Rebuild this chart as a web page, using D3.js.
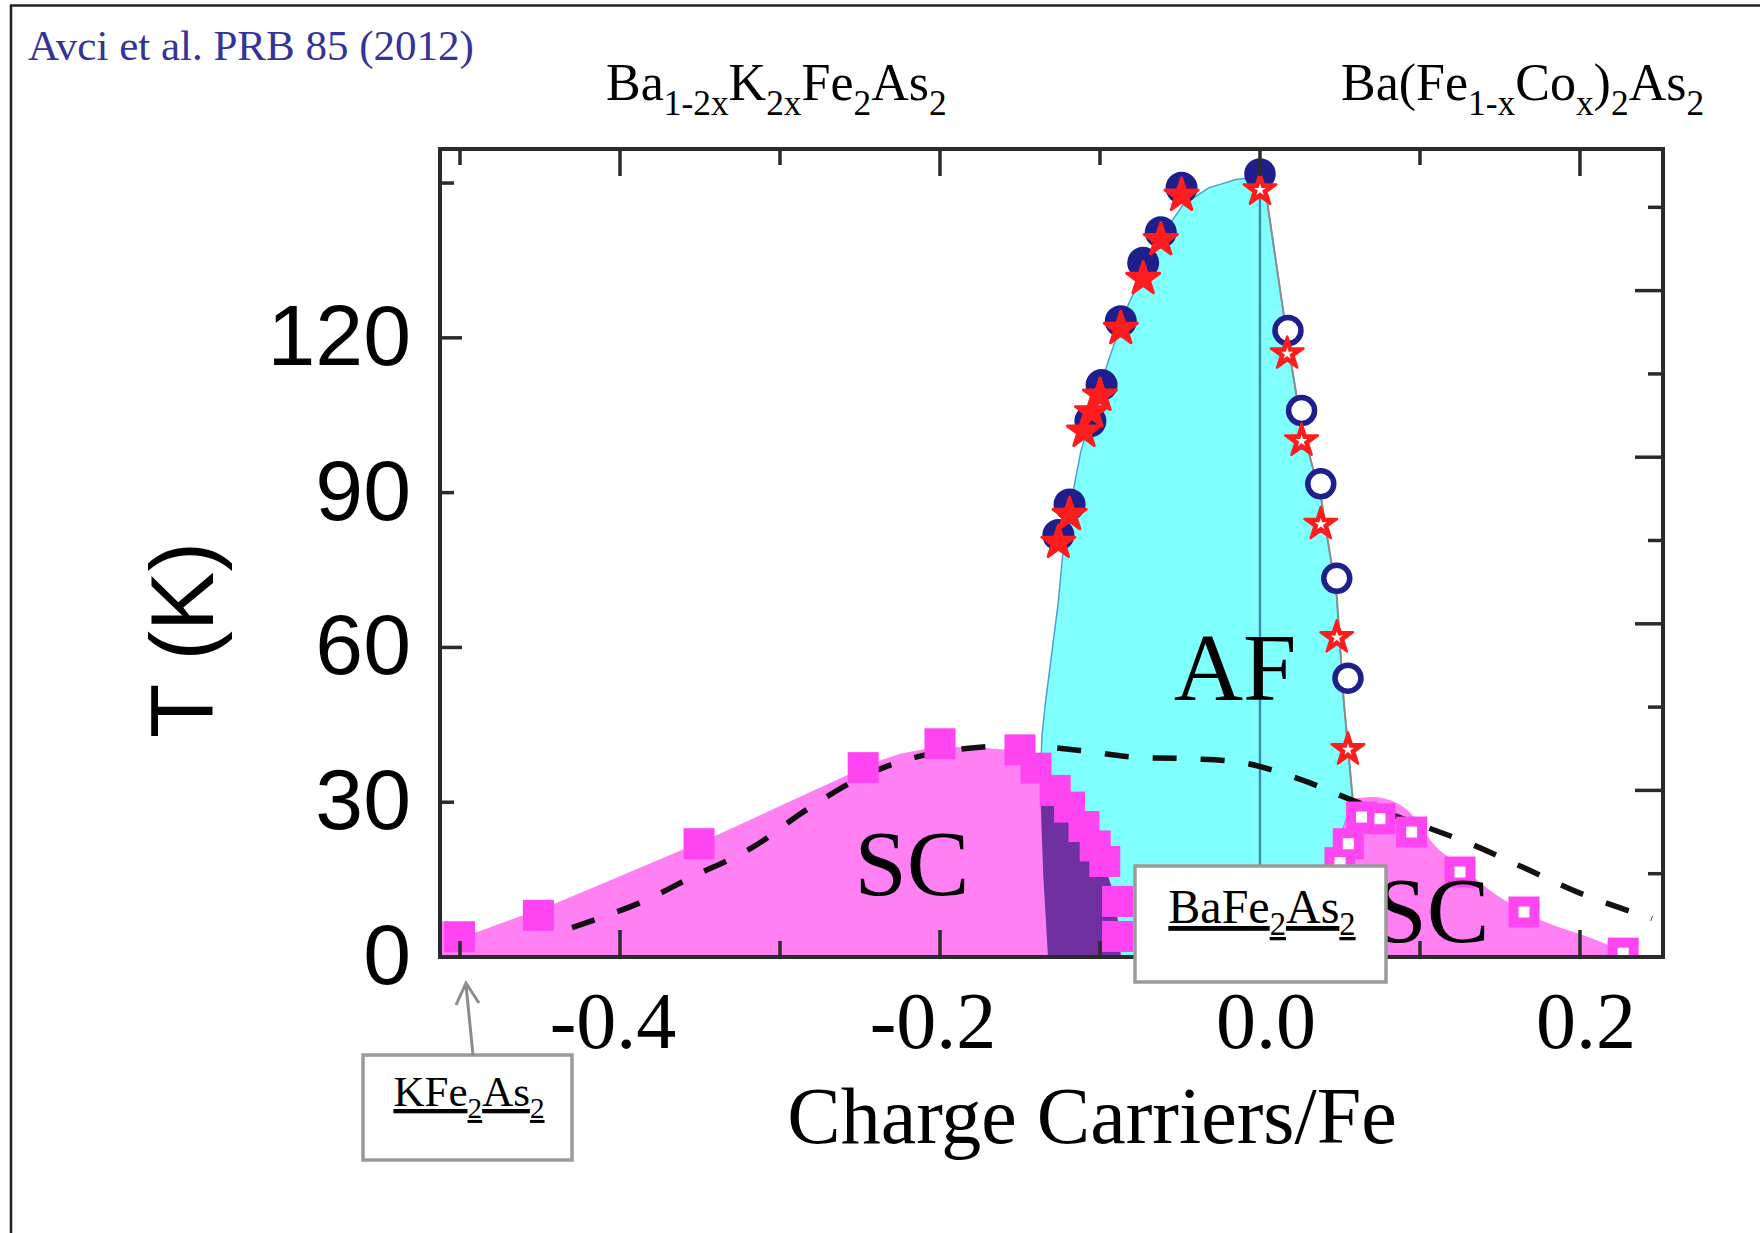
<!DOCTYPE html>
<html>
<head>
<meta charset="utf-8">
<script src="https://cdn.jsdelivr.net/npm/d3@7"></script>
<style>
  html, body { margin: 0; padding: 0; background: #fff; }
  svg { display: block; }
</style>
</head>
<body>
<svg id="chart" width="1760" height="1233"></svg>
<script>
// Ba1-2xK2xFe2As2 / Ba(Fe1-xCox)2As2 phase diagram (Avci et al.)
// x = charge carriers per Fe, T in K (scale of the inner plot frame)

// K-doped side: TN (filled circles) and Ts (filled stars)
const kCircles = [[-0.049, 138.5], [-0.062, 130.5], [-0.073, 125], [-0.087, 114.5],
  [-0.099, 103], [-0.106, 96.5], [-0.119, 81.5], [-0.126, 76]];
const kStars = [[-0.049, 137.5], [-0.062, 129.5], [-0.073, 122.5], [-0.087, 113.5],
  [-0.100, 101.5], [-0.105, 98.5], [-0.110, 95], [-0.119, 80], [-0.126, 75]];
// Co-doped side: open circles and open stars
const coCircles = [[0.0, 141], [0.0175, 112.8], [0.026, 98.4], [0.038, 85.2], [0.048, 68.2], [0.055, 50.2]];
const coStars = [[0.0, 138.5], [0.017, 109], [0.026, 93.3], [0.038, 78.3], [0.048, 57.9], [0.055, 37.7]];

// Tc points
const kSquares = [[-0.5003, 3.65], [-0.451, 7.5], [-0.3506, 20.4], [-0.248, 34.1], [-0.200, 38.4]];
const stairSquares = [[-0.150, 37.3], [-0.140, 34], [-0.128, 30], [-0.119, 27], [-0.110, 23.5],
  [-0.103, 20], [-0.097, 17.2], [-0.089, 10], [-0.089, 3.7]];
const coSquares = [[0.050, 17], [0.0552, 20.4], [0.0635, 25.2], [0.075, 24.9], [0.0948, 22.5],
  [0.125, 15.3], [0.165, 8.1], [0.227, 0.7]];

// phase boundaries
const afLeft = [[-0.1325, 0], [-0.1355, 15], [-0.1375, 31], [-0.1362, 40], [-0.134, 46], [-0.130, 55],
  [-0.126, 64], [-0.1225, 75], [-0.118, 82], [-0.112, 91], [-0.104, 99], [-0.094, 108], [-0.083, 117],
  [-0.072, 124], [-0.060, 130.5], [-0.048, 135.5], [-0.032, 138.5], [-0.015, 140], [0.0, 140.5]];
const afRight = [[0.0, 140.5], [0.004, 137], [0.0175, 110.5], [0.0257, 96], [0.0384, 82.3],
  [0.048, 64.9], [0.0523, 46.3], [0.058, 28.3]];
const afBottom = [[0.045, 17], [0.040, 0]];
const scLeft = [[-0.5125, 6.6], [-0.49, 4.4], [-0.44, 9.7], [-0.34, 21.9], [-0.24, 35.1], [-0.225, 36.6],
  [-0.21, 37.4], [-0.19, 37.8], [-0.17, 37.6], [-0.152, 37.2], [-0.146, 35], [-0.134, 31], [-0.119, 27.5],
  [-0.109, 23.5], [-0.099, 18], [-0.092, 12], [-0.088, 5], [-0.087, 0]];
const scRight = [[0.040, 0], [0.043, 12], [0.047, 19], [0.053, 24], [0.057, 28.3], [0.070, 28.8],
  [0.085, 27.8], [0.097, 25], [0.108, 20.5], [0.125, 16.5], [0.142, 12.4], [0.171, 7.3], [0.2125, 2.8], [0.235, 0]];
const tcDashed = [[-0.43, 5.3], [-0.388, 9.7], [-0.355, 14.4], [-0.318, 19.6], [-0.284, 26.4], [-0.249, 32.4],
  [-0.215, 36], [-0.182, 37.6], [-0.148, 38.1], [-0.1125, 37.2], [-0.079, 36], [-0.045, 35.7], [-0.009, 34.9],
  [0.027, 31.8], [0.058, 28.2], [0.1305, 20.5], [0.164, 16.2], [0.2, 11.5], [0.245, 6.9]];

// ticks
const xTicks = [-0.5, -0.4, -0.3, -0.2, -0.1, 0.0, 0.1, 0.2];
const xTickLabels = [-0.4, -0.2, 0.0, 0.2];
const leftTicks = [0, 30, 60, 90, 120, 150];
const leftTickLabels = [0, 30, 60, 90, 120];
const rightTicks = [15, 30, 45, 60, 75, 90, 105, 120, 135];

const serif = "'Liberation Serif', 'Times New Roman', serif";
const sans = "'Liberation Sans', Arial, sans-serif";
const pink = "#ff80f2", magenta = "#ff44f2", cyan = "#80ffff", purple = "#7030a0";
const navy = "#1e1e8c", red = "#ff1c1c";

const svg = d3.select("#chart");
const plot = { left: 440, right: 1663, top: 149, bottom: 957 };
const x = d3.scaleLinear().domain([-0.5125, 0.2519]).range([plot.left, plot.right]);
const y = d3.scaleLinear().domain([0, 145.5]).range([plot.bottom, plot.top]);
const yLeft = d3.scaleLinear().domain([0, 156.6]).range([plot.bottom, plot.top]);

const afLine = d3.line().x((d) => x(d[0])).y((d) => y(d[1])).curve(d3.curveLinearClosed);
const edgeLine = d3.line().x((d) => x(d[0])).y((d) => y(d[1]));
const scAreaLeft = d3.area().x((d) => x(d[0])).y0(y(0)).y1((d) => y(d[1]));
const scArea = d3.area().x((d) => x(d[0])).y0(y(0)).y1((d) => y(d[1])).curve(d3.curveMonotoneX);
const tcLine = d3.line().x((d) => x(d[0])).y((d) => y(d[1])).curve(d3.curveCatmullRom);
const afPoly = [...afLeft, ...afRight.slice(1), ...afBottom];

const defs = svg.append("defs");
defs.append("clipPath").attr("id", "plotClip")
  .append("rect").attr("x", plot.left).attr("y", plot.top)
  .attr("width", plot.right - plot.left).attr("height", plot.bottom - plot.top);
defs.append("clipPath").attr("id", "scClip").append("path").attr("d", scAreaLeft(scLeft));

// slide border
svg.append("path").attr("d", "M11,1233V5.5H1760").attr("fill", "none").attr("stroke", "#222").attr("stroke-width", 2.5);

const g = svg.append("g").attr("clip-path", "url(#plotClip)");

// AF region, SC domes, coexistence
g.append("path").attr("d", afLine(afPoly)).attr("fill", cyan).attr("stroke", "#4b9fd0").attr("stroke-width", 1.5);
g.append("path").attr("d", scAreaLeft(scLeft)).attr("fill", pink);
g.append("path").attr("d", scArea(scRight)).attr("fill", pink);
g.append("path").attr("d", afLine(afPoly)).attr("fill", purple).attr("clip-path", "url(#scClip)");

g.append("line").attr("x1", x(0)).attr("x2", x(0)).attr("y1", y(140.5)).attr("y2", y(0))
  .attr("stroke", "#3f85b5").attr("stroke-width", 2.4);
g.append("path").attr("d", edgeLine(afRight)).attr("fill", "none").attr("stroke", "#8c8c8c").attr("stroke-width", 2);

g.append("path").attr("d", tcLine(tcDashed)).attr("fill", "none").attr("stroke", "#111")
  .attr("stroke-width", 5.5).attr("stroke-dasharray", "24,24");

// Tc squares
const sq = 31;
g.selectAll("rect.ksq").data([...kSquares, ...stairSquares]).join("rect").attr("class", "ksq")
  .attr("x", (d) => x(d[0]) - sq / 2).attr("y", (d) => y(d[1]) - sq / 2)
  .attr("width", sq).attr("height", sq).attr("fill", magenta);
g.selectAll("rect.cosq").data(coSquares).join("rect").attr("class", "cosq")
  .attr("x", (d) => x(d[0]) - sq / 2).attr("y", (d) => y(d[1]) - sq / 2)
  .attr("width", sq).attr("height", sq).attr("fill", magenta);
g.selectAll("rect.cosqin").data(coSquares).join("rect").attr("class", "cosqin")
  .attr("x", (d) => x(d[0]) - 5.5).attr("y", (d) => y(d[1]) - 5.5)
  .attr("width", 11).attr("height", 11).attr("fill", "#fff");

// magnetic / structural transitions
const star = d3.symbol().type(d3.symbolStar);
g.selectAll("circle.kc").data(kCircles).join("circle").attr("class", "kc")
  .attr("cx", (d) => x(d[0])).attr("cy", (d) => y(d[1])).attr("r", 16).attr("fill", navy);
g.selectAll("path.ks").data(kStars).join("path").attr("class", "ks")
  .attr("transform", (d) => `translate(${x(d[0])},${y(d[1]) + 2})`)
  .attr("d", star.size(340)()).attr("fill", red)
  .attr("stroke", red).attr("stroke-width", 3).attr("stroke-linejoin", "round");
g.selectAll("circle.cc").data(coCircles).join("circle").attr("class", "cc")
  .attr("cx", (d) => x(d[0])).attr("cy", (d) => y(d[1])).attr("r", 13)
  .attr("fill", (d) => (d[0] === 0 ? navy : "#fff")).attr("stroke", navy).attr("stroke-width", 5.5);
g.selectAll("path.cs").data(coStars).join("path").attr("class", "cs")
  .attr("transform", (d) => `translate(${x(d[0])},${y(d[1]) + 2})`)
  .attr("d", star.size(330)()).attr("fill", red)
  .attr("stroke", red).attr("stroke-width", 2.5).attr("stroke-linejoin", "round");
g.selectAll("path.csin").data(coStars).join("path").attr("class", "csin")
  .attr("transform", (d) => `translate(${x(d[0])},${y(d[1]) + 2})`)
  .attr("d", star.size(45)()).attr("fill", "#fff");

// region labels
const label = (txt, cx, by, size) => svg.append("text").attr("x", cx).attr("y", by)
  .attr("text-anchor", "middle").attr("font-family", serif).attr("font-size", size).attr("fill", "#000").text(txt);
label("AF", 1235, 700, 96);
label("SC", 912, 895, 94);
label("SC", 1432, 942, 94);

// frame and ticks
svg.append("rect").attr("x", plot.left).attr("y", plot.top)
  .attr("width", plot.right - plot.left).attr("height", plot.bottom - plot.top)
  .attr("fill", "none").attr("stroke", "#2a2a2a").attr("stroke-width", 4);
const ticks = svg.append("g").attr("stroke", "#2a2a2a").attr("stroke-width", 3.5);
xTicks.forEach((v, i) => {
  const len = i % 2 === 1 ? 27 : 16;
  ticks.append("line").attr("x1", x(v)).attr("x2", x(v)).attr("y1", plot.bottom).attr("y2", plot.bottom - len);
  ticks.append("line").attr("x1", x(v)).attr("x2", x(v)).attr("y1", plot.top).attr("y2", plot.top + len);
});
leftTicks.forEach((v) => {
  const len = v % 60 === 0 ? 22 : 14;
  ticks.append("line").attr("x1", plot.left).attr("x2", plot.left + len).attr("y1", yLeft(v)).attr("y2", yLeft(v));
});
rightTicks.forEach((v) => {
  const len = v % 30 === 0 ? 28 : 15;
  ticks.append("line").attr("x1", plot.right).attr("x2", plot.right - len).attr("y1", y(v)).attr("y2", y(v));
});

// axis labels
svg.selectAll("text.xl").data(xTickLabels).join("text").attr("class", "xl")
  .attr("x", (d) => x(d) + 6 - (d < 0 ? 13 : 0)).attr("y", 1048)
  .attr("text-anchor", "middle").attr("font-family", serif).attr("font-size", 80)
  .text((d) => d.toFixed(1));
svg.append("text").attr("x", 1092).attr("y", 1143).attr("text-anchor", "middle")
  .attr("font-family", serif).attr("font-size", 80).text("Charge Carriers/Fe");
svg.selectAll("text.yl").data(leftTickLabels).join("text").attr("class", "yl")
  .attr("x", 411).attr("y", (d) => yLeft(d) + 27)
  .attr("text-anchor", "end").attr("font-family", sans).attr("font-size", 86)
  .text((d) => d);
svg.append("text").attr("transform", "translate(213,640) rotate(-90)").attr("text-anchor", "middle")
  .attr("font-family", sans).attr("font-size", 89).text("T (K)");

// formula text with subscripts
function formula(sel, parts, size, shift) {
  parts.forEach((p, i) => {
    const prevSub = i > 0 && parts[i - 1].sub;
    const t = sel.append("tspan").text(p.t);
    if (p.sub) t.attr("font-size", size * 0.68).attr("dy", shift);
    else if (prevSub) t.attr("dy", -shift);
  });
  return sel;
}
svg.append("text").attr("x", 28).attr("y", 60).attr("font-family", serif).attr("font-size", 43)
  .attr("fill", "#33339a").text("Avci et al. PRB 85 (2012)");
formula(svg.append("text").attr("x", 606).attr("y", 100).attr("font-family", serif).attr("font-size", 52),
  [{ t: "Ba" }, { t: "1-2x", sub: true }, { t: "K" }, { t: "2x", sub: true }, { t: "Fe" }, { t: "2", sub: true },
    { t: "As" }, { t: "2", sub: true }], 52, 15);
formula(svg.append("text").attr("x", 1341).attr("y", 100).attr("font-family", serif).attr("font-size", 52),
  [{ t: "Ba(Fe" }, { t: "1-x", sub: true }, { t: "Co" }, { t: "x", sub: true }, { t: ")" }, { t: "2", sub: true },
    { t: "As" }, { t: "2", sub: true }], 52, 15);

// compound boxes
function box(rx, ry, rw, rh, tx, ty, size, parts) {
  svg.append("rect").attr("x", rx).attr("y", ry).attr("width", rw).attr("height", rh)
    .attr("fill", "#fff").attr("stroke", "#9a9a9a").attr("stroke-width", 3.5);
  formula(svg.append("text").attr("x", tx).attr("y", ty).attr("text-anchor", "middle")
    .attr("font-family", serif).attr("font-size", size).attr("text-decoration", "underline"), parts, size, 12);
}
box(1135, 866, 251, 116, 1262, 923, 48,
  [{ t: "BaFe" }, { t: "2", sub: true }, { t: "As" }, { t: "2", sub: true }]);
box(363, 1055, 209, 105, 469, 1106, 43,
  [{ t: "KFe" }, { t: "2", sub: true }, { t: "As" }, { t: "2", sub: true }]);
svg.append("path").attr("d", "M473,1055L466,985M456,1005L466,983L479,1003")
  .attr("fill", "none").attr("stroke", "#8c8c8c").attr("stroke-width", 3);
</script>
</body>
</html>
